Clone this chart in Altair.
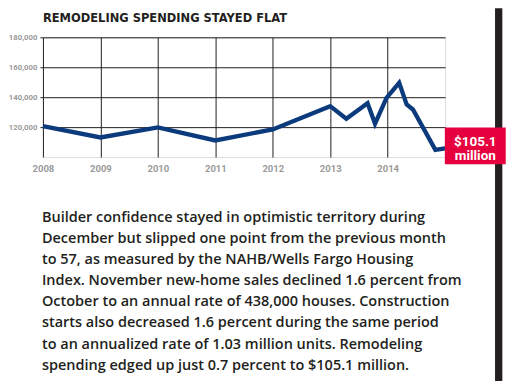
import altair as alt
import pandas as pd

# Remodeling spending (decimal year, value)
years = [2008.0, 2009.0, 2010.0, 2011.0, 2012.0, 2013.0, 2013.28, 2013.65, 2013.78,
         2013.98, 2014.2, 2014.33, 2014.44, 2014.83, 2015.0]
spending = [120700, 113100, 119800, 111100, 118500, 134000, 125600, 136000, 122300,
            139600, 149600, 135100, 131800, 104800, 105800]
x_ticks = [2008, 2009, 2010, 2011, 2012, 2013, 2014]
y_ticks = [120000, 140000, 160000, 180000]
title_text = "REMODELING SPENDING STAYED FLAT"
callout = ["$105.1", "million"]
body_lines = [
    "Builder confidence stayed in optimistic territory during",
    "December but slipped one point from the previous month",
    "to 57, as measured by the NAHB/Wells Fargo Housing",
    "Index. November new-home sales declined 1.6 percent from",
    "October to an annual rate of 438,000 houses. Construction",
    "starts also decreased 1.6 percent during the same period",
    "to an annualized rate of 1.03 million units. Remodeling",
    "spending edged up just 0.7 percent to $105.1 million.",
]

INK = "#231f20"
NAVY = "#0b3b7c"
RED = "#e6003d"
GREY = "#9a9a9a"

df = pd.DataFrame({"year": years, "value": spending})

line = alt.Chart(df).mark_line(color=NAVY, strokeWidth=4.3, strokeJoin="miter").encode(
    x=alt.X("year:Q", scale=alt.Scale(domain=[2008, 2015], nice=False, zero=False),
            axis=alt.Axis(values=x_ticks, format="d", title=None, grid=True, gridColor=INK,
                          gridOpacity=1, gridWidth=1, ticks=False, domain=False,
                          labelColor=GREY, labelFont="Roboto", labelFontWeight="bold",
                          labelFontSize=9.5, labelPadding=6, labelAlign="center")),
    y=alt.Y("value:Q", scale=alt.Scale(domain=[100000, 180000], nice=False, zero=False),
            axis=alt.Axis(values=y_ticks, format=",.0f", title=None, grid=True, gridColor=INK,
                          gridOpacity=1, gridWidth=1, tickSize=3, tickColor=INK, domain=False,
                          labelColor=GREY, labelFont="Roboto", labelFontWeight="bold",
                          labelFontSize=7.8, labelPadding=3)),
)

title = alt.Chart(pd.DataFrame({"t": [title_text]})).mark_text(
    align="left", baseline="alphabetic", font="DejaVu Sans", fontWeight="bold", fontSize=11.5,
    color=INK,
).encode(x=alt.value(0), y=alt.value(-15.3), text="t:N")

bar = alt.Chart(pd.DataFrame({"t": [""]})).mark_rect(color=INK).encode(
    x=alt.value(453), x2=alt.value(460.3), y=alt.value(-29), y2=alt.value(346)
)

box = alt.Chart(pd.DataFrame({"t": [""]})).mark_rect(color=RED).encode(
    x=alt.value(402.7), x2=alt.value(463.7), y=alt.value(90.3), y2=alt.value(127.3)
)

box_text = alt.Chart(pd.DataFrame({"t": ["\n".join(callout)]})).mark_text(
    align="center", baseline="alphabetic", font="Roboto", fontWeight="bold", fontSize=13.5,
    color="white", lineBreak="\n", lineHeight=14.5,
).encode(x=alt.value(433.2), y=alt.value(108.5), text="t:N")

body = alt.Chart(pd.DataFrame({"t": ["\n".join(body_lines)]})).mark_text(
    align="left", baseline="alphabetic", font="Open Sans", fontWeight=600, fontSize=14.5,
    color=INK, lineBreak="\n", lineHeight=21.2,
).encode(x=alt.value(-1), y=alt.value(184.7), text="t:N")

chart = alt.layer(line, title, bar, box, box_text, body).properties(
    width=403, height=120,
    autosize=alt.AutoSizeParams(type="none"),
    padding={"left": 35, "top": 29, "right": 70, "bottom": 224},
).configure_view(stroke=INK, strokeWidth=1).configure(background="white")

chart.save("out.html", embed_options={"renderer": "svg", "actions": False})
